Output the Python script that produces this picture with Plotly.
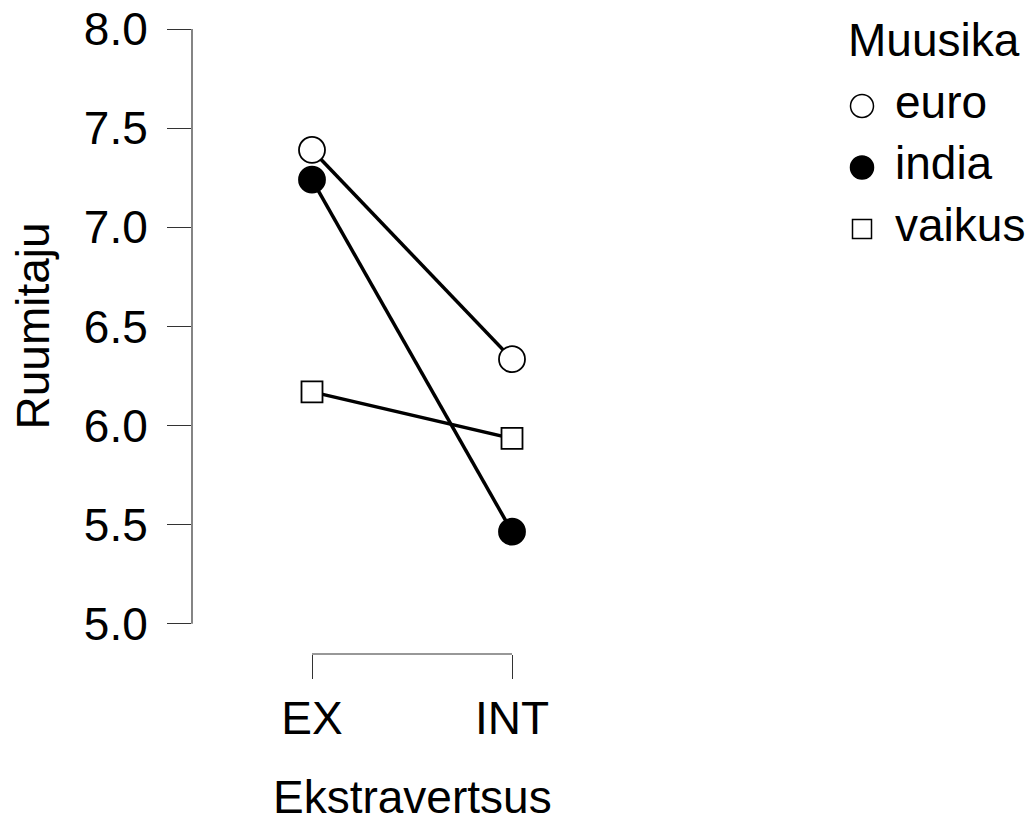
import plotly.graph_objects as go

# ---- data ----
categories = ["EX", "INT"]
series_names = ["euro", "india", "vaikus"]
euro = [7.39, 6.335]
india = [7.24, 5.465]
vaikus = [6.17, 5.935]
y_ticks = [5.0, 5.5, 6.0, 6.5, 7.0, 7.5, 8.0]
y_tick_labels = ["5.0", "5.5", "6.0", "6.5", "7.0", "7.5", "8.0"]
x_title = "Ekstravertsus"
y_title = "Ruumitaju"
legend_title = "Muusika"

FONT = "Liberation Sans, Arial, sans-serif"
FS = 46
W, H = 1032, 823

styles = {
    "euro": dict(symbol="circle", color="white", size=26, lsize=23),
    "india": dict(symbol="circle", color="black", size=26, lsize=23),
    "vaikus": dict(symbol="square", color="white", size=21, lsize=19),
}
values = {"euro": euro, "india": india, "vaikus": vaikus}

fig = go.Figure()
for name in series_names:
    s = styles[name]
    fig.add_trace(go.Scatter(
        x=categories, y=values[name], mode="lines+markers", name=name,
        line=dict(color="black", width=3.5),
        marker=dict(symbol=s["symbol"], color=s["color"], size=s["size"],
                    line=dict(color="black", width=1.8)),
        cliponaxis=False, showlegend=False, hoverinfo="skip",
    ))

# custom legend on its own small axes
for i, name in enumerate(series_names):
    s = styles[name]
    fig.add_trace(go.Scatter(
        x=[0], y=[i], mode="markers",
        marker=dict(symbol=s["symbol"], color=s["color"], size=s["lsize"],
                    line=dict(color="black", width=1.5), opacity=1),
        xaxis="x2", yaxis="y2", cliponaxis=False, showlegend=False, hoverinfo="skip",
    ))
fig.add_trace(go.Scatter(
    x=[1] * len(series_names), y=list(range(len(series_names))), mode="text",
    text=series_names, textposition="middle right",
    textfont=dict(family=FONT, size=FS, color="black"),
    xaxis="x2", yaxis="y2", cliponaxis=False, showlegend=False, hoverinfo="skip",
))

px_x = lambda p: p / W
px_y = lambda p: 1 - p / H

fig.update_layout(
    template="none",
    width=W, height=H,
    margin=dict(l=0, r=0, t=0, b=0, pad=0, autoexpand=False),
    paper_bgcolor="white", plot_bgcolor="white",
    font=dict(family=FONT, size=FS, color="black"),
    xaxis=dict(
        domain=[px_x(192), px_x(632)], type="category", range=[-0.6, 1.6],
        showline=False, showgrid=False, zeroline=False, automargin=False,
        ticks="outside", ticklen=24, tickwidth=1.2, tickcolor="#333",
        tickfont=dict(family=FONT, size=FS, color="black"),
        ticklabelstandoff=0,
    ),
    yaxis=dict(
        domain=[px_y(654), px_y(29)], range=[4.848, 8.0],
        tickvals=y_ticks, ticktext=y_tick_labels,
        showline=False, showgrid=False, zeroline=False, automargin=False,
        ticks="outside", ticklen=24, tickwidth=1.2, tickcolor="#333",
        tickfont=dict(family=FONT, size=FS, color="black"),
        ticklabelstandoff=10,
    ),
    xaxis2=dict(domain=[px_x(840), 1.0], range=[-22 / 33, 170 / 33], anchor="y2",
                visible=False, automargin=False),
    yaxis2=dict(domain=[px_y(259.75), px_y(75.25)], range=[2.5, -0.5], anchor="x2",
                visible=False, automargin=False),
    shapes=[
        dict(type="line", xref="x domain", yref="y", x0=0, x1=0, y0=5.0, y1=8.0,
             line=dict(color="#333", width=1.2)),
        dict(type="line", xref="x", yref="y domain", x0=0, x1=1, y0=0, y1=0,
             line=dict(color="#333", width=1.2)),
    ],
    annotations=[
        dict(text=x_title, xref="x", x=0.5, yref="paper", y=px_y(797),
             xanchor="center", yanchor="middle", showarrow=False,
             font=dict(family=FONT, size=FS, color="black")),
        dict(text=y_title, xref="paper", x=px_x(33), yref="y", y=6.5,
             xanchor="center", yanchor="middle", textangle=-90, showarrow=False,
             font=dict(family=FONT, size=FS, color="black")),
        dict(text=legend_title, xref="paper", x=px_x(846), yref="paper", y=px_y(40),
             xanchor="left", yanchor="middle", showarrow=False,
             font=dict(family=FONT, size=FS, color="black")),
    ],
)

fig.write_html("out.html", config={"displayModeBar": False},
               post_script="document.body.style.margin='0';document.body.style.overflow='hidden';")
